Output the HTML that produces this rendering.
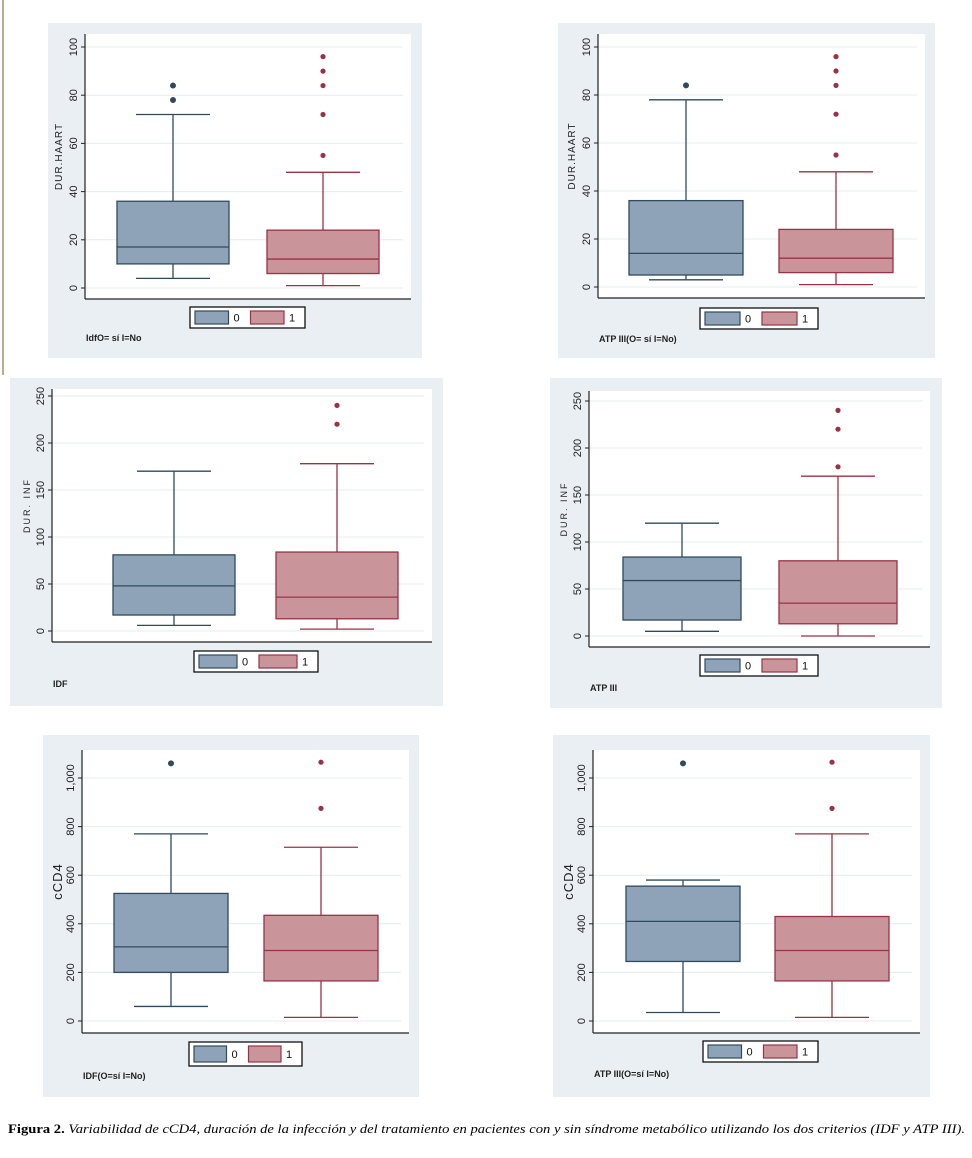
<!DOCTYPE html>
<html><head><meta charset="utf-8">
<style>
html,body{margin:0;padding:0;background:#fff;}
svg{display:block;font-family:"Liberation Sans",sans-serif;}
</style></head>
<body>
<svg id="fig" width="972" height="1158" viewBox="0 0 972 1158" xmlns="http://www.w3.org/2000/svg">
<line x1="3" y1="0" x2="3" y2="375" stroke="#b9ad8f" stroke-width="2"/>
<text x="8" y="1133" font-family="Liberation Serif, serif" font-size="13" textLength="957" lengthAdjust="spacingAndGlyphs"><tspan font-weight="bold">Figura 2.</tspan><tspan font-style="italic"> Variabilidad de cCD4, duración de la infección y del tratamiento en pacientes con y sin síndrome metabólico utilizando los dos criterios (IDF y ATP III).</tspan></text>
</svg>
<script>
// ---- data ----
const groupLabels = ["0","1"];
const p1Ticks = [0,20,40,60,80,100];
const p1Box0 = [4,10,17,36,72];
const p1Box1 = [1,6,12,24,48];
const p1Out0 = [78,84];
const p1Out1 = [55,72,84,90,96];
const p2Ticks = [0,20,40,60,80,100];
const p2Box0 = [3,5,14,36,78];
const p2Box1 = [1,6,12,24,48];
const p2Out0 = [84];
const p2Out1 = [55,72,84,90,96];
const p3Ticks = [0,50,100,150,200,250];
const p3Box0 = [6,17,48,81,170];
const p3Box1 = [2,13,36,84,178];
const p3Out0 = [];
const p3Out1 = [220,240];
const p4Ticks = [0,50,100,150,200,250];
const p4Box0 = [5,17,59,84,120];
const p4Box1 = [0,13,35,80,170];
const p4Out0 = [];
const p4Out1 = [180,220,240];
const p5Ticks = [0,200,400,600,800,1000];
const p5TickLabels = ["0","200","400","600","800","1,000"];
const p5Box0 = [60,200,305,525,770];
const p5Box1 = [15,165,290,435,715];
const p5Out0 = [1060];
const p5Out1 = [875,1065];
const p6Ticks = [0,200,400,600,800,1000];
const p6TickLabels = ["0","200","400","600","800","1,000"];
const p6Box0 = [35,245,410,555,580];
const p6Box1 = [15,165,290,430,770];
const p6Out0 = [1060];
const p6Out1 = [875,1065];

const NS = "http://www.w3.org/2000/svg";
const svg = document.getElementById('fig');
function mk(tag, attrs, parent){
  const e = document.createElementNS(NS, tag);
  for (const k in attrs) e.setAttribute(k, attrs[k]);
  (parent||svg).appendChild(e);
  return e;
}
const FILL = ["#8fa3b8","#c9959b"], STROKE = ["#2f4a5f","#9a3244"];

function panel(cfg){
  const g = mk('g', {});
  
  
  const bg = mk('rect', {x:cfg.bx, y:cfg.by, width:cfg.bw, height:cfg.bh, fill:"#e9eff2"}, g);
  
  
  const pr = mk('rect', {x:cfg.ax, y:cfg.top, width:cfg.right-cfg.ax, height:cfg.bot-cfg.top, fill:"#ffffff"}, g);
  
  
  const ys = v => cfg.y0 - (v - 0) * (cfg.y0 - cfg.y1) / cfg.vmax;
  cfg.ticks.forEach((t,i) => {
    const y = ys(t);
    const gl = mk('line', {x1:cfg.ax, x2:cfg.right-8, y1:y, y2:y, stroke:"#e6ecef", "stroke-width":1}, g);
    
    
    const tk = mk('line', {x1:cfg.ax-4, x2:cfg.ax, y1:y, y2:y, stroke:"#222", "stroke-width":1}, g);
    
    
    const lx = cfg.ax - 8;
    const tl = mk('text', {x:lx, y:y, "font-size":11, fill:"#222", "text-anchor":"middle", transform:`rotate(-90 ${lx} ${y})`}, g);
    tl.textContent = cfg.labels ? cfg.labels[i] : String(t);
    
    
  });
  const ty = (cfg.top + cfg.bot)/2 - 10;
  const tt = mk('text', {x:cfg.tx, y:ty, "font-size":cfg.tfs||10, fill:"#222", "text-anchor":"middle", "letter-spacing":cfg.tls||1, transform:`rotate(-90 ${cfg.tx} ${ty})`}, g);
  tt.textContent = cfg.title;
  
  
  const ya = mk('line', {x1:cfg.ax, x2:cfg.ax, y1:cfg.top, y2:cfg.bot, stroke:"#222", "stroke-width":1.2}, g);
  
  
  const xa = mk('line', {x1:cfg.ax, x2:cfg.right, y1:cfg.bot, y2:cfg.bot, stroke:"#222", "stroke-width":1.2}, g);
  
  
  [cfg.b0, cfg.b1].forEach((b, i) => {
    const cx = cfg.cx[i], hw = cfg.hw, cw = 37;
    const wl = mk('line', {x1:cx, x2:cx, y1:ys(b[0]), y2:ys(b[4]), stroke:STROKE[i], "stroke-width":1.3}, g);
    
    
    [b[0], b[4]].forEach(v => {
      const c = mk('line', {x1:cx-cw, x2:cx+cw, y1:ys(v), y2:ys(v), stroke:STROKE[i], "stroke-width":1.3}, g);
      
      
    });
    const r = mk('rect', {x:cx-hw, y:ys(b[3]), width:2*hw, height:ys(b[1])-ys(b[3]), fill:FILL[i], stroke:STROKE[i], "stroke-width":1.3}, g);
    
    
    const m = mk('line', {x1:cx-hw, x2:cx+hw, y1:ys(b[2]), y2:ys(b[2]), stroke:STROKE[i], "stroke-width":1.3}, g);
    
    
    (i===0 ? cfg.o0 : cfg.o1).forEach(v => {
      const o = mk('circle', {cx:cx, cy:ys(v), r: i===0?3:2.6, fill:STROKE[i]}, g);
      
      
    });
  });
  const L = cfg.leg;
  const lg = mk('g', {}, g);
  
  
  mk('rect', {x:L[0], y:L[1], width:L[2], height:L[3], fill:"#fff", stroke:"#111", "stroke-width":1.3}, lg);
  const sw = (L[2]-24)/2 - 12;
  for (let i=0;i<2;i++){
    const sx = L[0] + 5 + i*(sw+22);
    const s = mk('rect', {x:sx, y:L[1]+4, width:sw, height:L[3]-8, fill:FILL[i], stroke:STROKE[i], "stroke-width":1.2}, lg);
    
    
    const t = mk('text', {x:sx+sw+5, y:L[1]+L[3]/2+4, "font-size":11, fill:"#111"}, lg);
    t.textContent = groupLabels[i];
    
    
  }
  const ft = mk('text', {x:cfg.ax+1, y:cfg.fy, "font-size":9, fill:"#222", "font-weight":"bold"}, g);
  ft.textContent = cfg.foot;
  
  
}

panel({name:'panel-idf-haart', bx:48,by:23,bw:374,bh:335, ax:85,right:411,top:34,bot:299, y0:288,y1:47,vmax:100,
  ticks:p1Ticks, title:"DUR.HAART", tx:62, b0:p1Box0,b1:p1Box1,o0:p1Out0,o1:p1Out1, cx:[173,323], hw:56,
  leg:[190,307,115,21], foot:"IdfO= sí I=No", fy:341});
panel({name:'panel-atp-haart', bx:558,by:23,bw:377,bh:335, ax:598,right:925,top:34,bot:298, y0:287,y1:47,vmax:100,
  ticks:p2Ticks, title:"DUR.HAART", tx:575, b0:p2Box0,b1:p2Box1,o0:p2Out0,o1:p2Out1, cx:[686,836], hw:57,
  leg:[700,308,118,21], foot:"ATP III(O= sí I=No)", fy:342});
panel({name:'panel-idf-inf', bx:10,by:378,bw:433,bh:328, ax:52,right:432,top:389,bot:642, y0:631,y1:396,vmax:250,
  ticks:p3Ticks, title:"DUR. INF", tx:30, tfs:9, tls:2, b0:p3Box0,b1:p3Box1,o0:p3Out0,o1:p3Out1, cx:[174,337], hw:61,
  leg:[194,651,124,21], foot:"IDF", fy:687});
panel({name:'panel-atp-inf', bx:550,by:378,bw:392,bh:330, ax:589,right:930,top:391,bot:647, y0:636,y1:401,vmax:250,
  ticks:p4Ticks, title:"DUR. INF", tx:567, tfs:9, tls:2, b0:p4Box0,b1:p4Box1,o0:p4Out0,o1:p4Out1, cx:[682,838], hw:59,
  leg:[700,655,118,21], foot:"ATP III", fy:691});
panel({name:'panel-idf-cd4', bx:43,by:735,bw:376,bh:362, ax:82,right:409,top:750,bot:1033, y0:1021,y1:778,vmax:1000,
  ticks:p5Ticks, labels:p5TickLabels, title:"cCD4", tx:62, tfs:13, tls:0, b0:p5Box0,b1:p5Box1,o0:p5Out0,o1:p5Out1, cx:[171,321], hw:57,
  leg:[189,1042,113,24], foot:"IDF(O=sí I=No)", fy:1079});
panel({name:'panel-atp-cd4', bx:553,by:735,bw:377,bh:362, ax:593,right:920,top:750,bot:1033, y0:1021,y1:778,vmax:1000,
  ticks:p6Ticks, labels:p6TickLabels, title:"cCD4", tx:573, tfs:13, tls:0, b0:p6Box0,b1:p6Box1,o0:p6Out0,o1:p6Out1, cx:[683,832], hw:57,
  leg:[703,1041,115,21], foot:"ATP III(O=sí I=No)", fy:1077});
</script>
</body></html>
